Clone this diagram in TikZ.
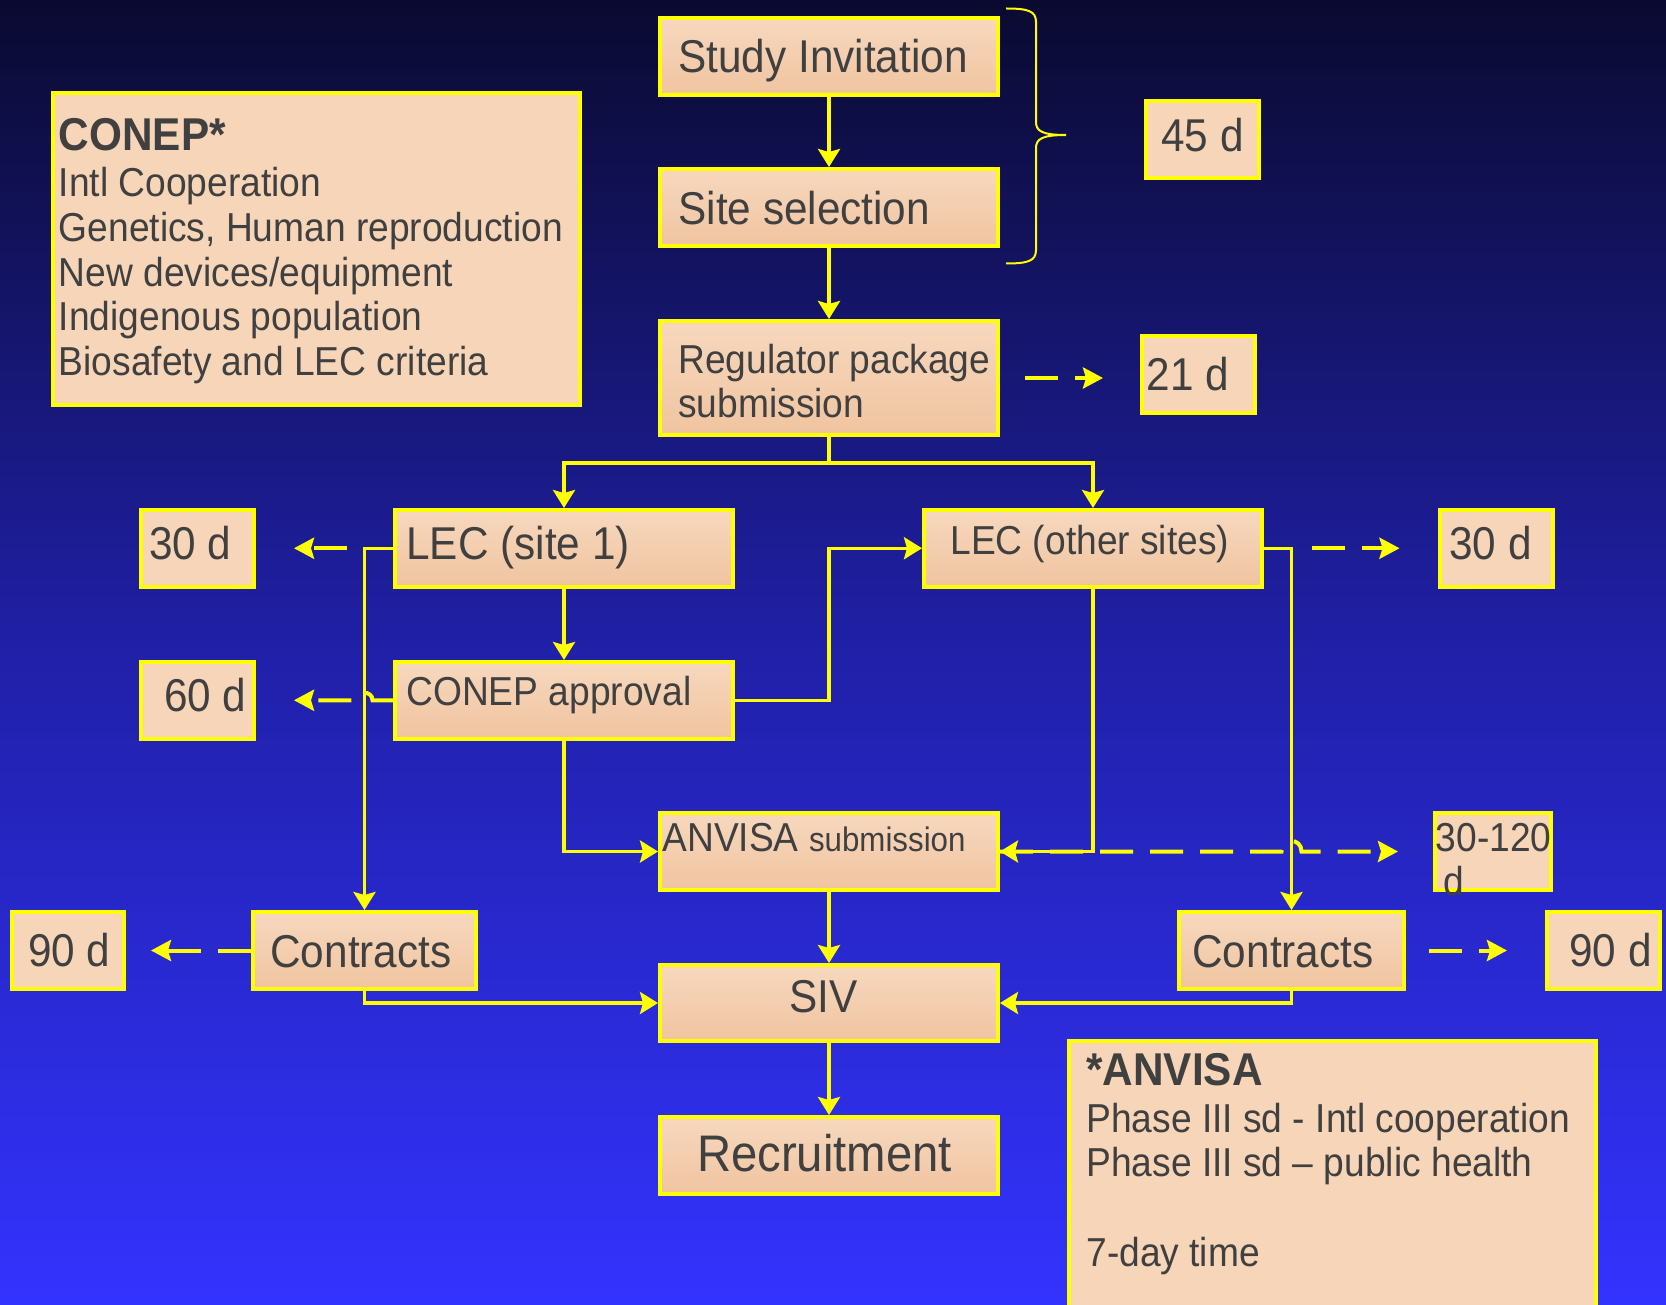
\documentclass[tikz,border=0pt]{standalone}
\usepackage{fontspec}
\setmainfont{Liberation Sans}[FakeStretch=0.92]
\usetikzlibrary{arrows.meta,calc}
\definecolor{bgtop}{RGB}{10,10,48}
\definecolor{bgmid}{RGB}{32,32,168}
\definecolor{bgbot}{RGB}{51,51,255}
\definecolor{peachA}{RGB}{247,216,190}
\definecolor{peachB}{RGB}{240,196,160}
\definecolor{peachF}{RGB}{247,213,184}
\definecolor{txtc}{RGB}{64,64,64}
\definecolor{yel}{RGB}{255,255,0}
\begin{document}
\begin{tikzpicture}[x=0.5pt,y=-0.5pt,
  flow/.style={draw=yel,line width=2pt,top color=peachA,bottom color=peachB,minimum width=169pt,minimum height=38.5pt,inner sep=0pt},
  dbox/.style={draw=yel,line width=2pt,fill=peachF,minimum width=56.5pt,minimum height=38.5pt,inner sep=0pt},
  note/.style={draw=yel,line width=2pt,fill=peachF,inner sep=0pt},
  tx/.style={text=txtc,inner sep=0pt,anchor=base west},
  fL/.style={font=\fontsize{23}{27}\selectfont},
  fM/.style={font=\fontsize{20.2}{24}\selectfont},
  fX/.style={font=\fontsize{25.7}{30}\selectfont},
  fB/.style={font=\fontsize{23}{27}\selectfont\bfseries},
  arr/.style={draw=yel,line width=1.7pt,-{Stealth[length=9pt,width=11pt,inset=1.5pt]}},
  darr/.style={draw=yel,line width=2pt,-{Stealth[length=10pt,width=10.5pt,inset=1.5pt]},dash pattern=on 16.5pt off 8.5pt},
  brace/.style={draw=yel,line width=1pt}]
\path[use as bounding box] (0,0) rectangle (1666,1305);
\clip (0,0) rectangle (1666,1305);
\shade[top color=bgtop,bottom color=bgbot,middle color=bgmid] (0,0) rectangle (1666,1305);

% legend boxes
\node[note,minimum width=263.5pt,minimum height=155.75pt] (conep) at (316.5,249.25) {};
\node[note,minimum width=263.5pt,minimum height=139.5pt] (anvisa) at (1332.5,1180.5) {};

% flow boxes
\node[flow] (si) at (829,56.5) {};
\node[flow,minimum height=38.75pt] (ss) at (829,207.75) {};
\node[flow,minimum height=57pt] (rp) at (829,378) {};
\node[flow,minimum height=38.25pt] (l1) at (564,548.25) {};
\node[flow,minimum height=38.25pt] (lo) at (1093,548.25) {};
\node[flow,minimum height=38.25pt] (ca) at (564,700.25) {};
\node[flow] (an) at (829,851.5) {};
\node[flow,minimum width=111.5pt] (cl) at (364.5,950.5) {};
\node[flow,minimum height=38pt] (siv) at (829,1003) {};
\node[flow,minimum width=112.5pt] (cr) at (1291.5,950.5) {};
\node[flow] (rec) at (829,1155.5) {};

% duration boxes
\node[dbox,minimum height=38.75pt] (d45) at (1202.5,139.75) {};
\node[dbox] (d21) at (1198.5,374.5) {};
\node[dbox,minimum height=38.25pt] (d30l) at (197.5,548.25) {};
\node[dbox,minimum height=38.25pt] (d60) at (197.5,700.25) {};
\node[dbox,minimum height=38.25pt] (d30r) at (1496,548.25) {};
\node[dbox,minimum width=58pt] (d120) at (1493,851.5) {};
\node[dbox,minimum width=56pt] (d90l) at (68,950.5) {};
\node[dbox] (d90r) at (1603.5,950.5) {};

% brace
\draw[brace] (1006,8.5) .. controls (1028,8.5) and (1036,11) .. (1036,22) -- (1036,122)
  .. controls (1036,131) and (1042,135) .. (1066,135)
  .. controls (1042,135) and (1036,139) .. (1036,148) -- (1036,250)
  .. controls (1036,261) and (1028,263.5) .. (1006,263.5);

% solid connectors
\coordinate (j1) at (829,463);
\draw[arr] (si) -- (ss);
\draw[arr] (ss) -- (rp);
\draw[yel,line width=1.7pt] (rp.south) -- (j1);
\draw[arr] (j1) -| (l1.north);
\draw[arr] (j1) -| (lo.north);
\draw[arr] (l1) -- (ca);
\draw[arr] (ca.east) -| ($(ca.east -| si.south)$) |- (lo.west);
\draw[arr] (ca.south) |- (an.west);
\draw[arr] (lo.south) |- (an.east);
\draw[arr] (l1.west) -| (cl.north);
\draw[arr] (lo.east) -| (cr.north);
\draw[arr] (cl.south) |- (siv.west);
\draw[arr] (cr.south) |- (siv.east);
\draw[arr] (an) -- (siv);
\draw[arr] (siv) -- (rec);

% dashed connectors
\draw[darr,shorten <=12.5pt,shorten >=18.5pt] (rp.east) -- (rp.east -| d21.west);
\draw[darr,shorten <=23pt,shorten >=19pt] (l1.west) -- (l1.west -| d30l.east);
\draw[darr,shorten >=19pt] (ca.west) -- ($(ca.west -| cl.north)+(8,0)$)
  .. controls +(0,-10) and +(0,-10) .. ($(ca.west -| cl.north)+(-8,0)$) -- (ca.west -| d60.east);
\draw[darr,shorten >=12.5pt] (cl.west) -- (cl.west -| d90l.east);
\draw[darr,shorten <=24pt,shorten >=19pt] (lo.east) -- (lo.east -| d30r.west);
\draw[darr,shorten >=17.5pt] (an.east) -- ($(an.east -| cr.north)+(-10,0)$)
  .. controls +(0,-14) and +(0,-14) .. ($(an.east -| cr.north)+(10,0)$) -- (an.east -| d120.west);
\draw[darr,shorten <=11.5pt,shorten >=19pt] (cr.east) -- (cr.east -| d90r.west);

% texts
\node[tx,fL] (tsi) at (678,72.8) {Study Invitation};
\node[tx,fL] (tss) at (678,224.8) {Site selection};
\node[tx,fM] (trp1) at (678,373.4) {Regulator package};
\node[tx,fM] (trp2) at (678,417) {submission};
\node[tx,fL] (tl1) at (406,559.5) {LEC (site 1)};
\node[tx,fM] (tlo) at (950,554) {LEC (other sites)};
\node[tx,fM] (tca) at (406,705) {CONEP approval};
\node[tx,fM] (tan) at (662,851.5) {ANVISA {\fontsize{17}{20}\selectfont submission}};
\node[tx,fL,anchor=base] (tsiv) at (823.4,1012) {SIV};
\node[tx,fX,anchor=base] (trec) at (824.5,1171) {Recruitment};
\node[tx,fL] (tcl) at (270,967.5) {Contracts};
\node[tx,fL] (tcr) at (1192,967.5) {Contracts};
\node[tx,fL] (t45) at (1161,151.5) {45 d};
\node[tx,fL] (t21) at (1146.4,390.5) {21 d};
\node[tx,fL] (t30l) at (148.75,559.5) {30 d};
\node[tx,fL] (t60) at (163.6,711.5) {60 d};
\node[tx,fL] (t30r) at (1449,559.5) {30 d};
\node[tx,fL] (t90l) at (27.6,966.5) {90 d};
\node[tx,fL] (t90r) at (1569,966.5) {90 d};
\node[tx,fM] (t120a) at (1435.4,851.5) {30-120};
\node[tx,fM] (t120b) at (1443,895) {d};

\node[tx,fB] (tc0) at (58.4,150.4) {CONEP*};
\node[tx,fM] (tc1) at (58.4,197) {Intl Cooperation};
\node[tx,fM] (tc2) at (58.4,241.6) {Genetics, Human reproduction};
\node[tx,fM] (tc3) at (58.4,286.2) {New devices/equipment};
\node[tx,fM] (tc4) at (58.4,330.8) {Indigenous population};
\node[tx,fM] (tc5) at (58.4,375.4) {Biosafety and LEC criteria};

\node[tx,fB] (ta0) at (1086,1085.5) {*ANVISA};
\node[tx,fM] (ta1) at (1086,1132) {Phase III sd - Intl cooperation};
\node[tx,fM] (ta2) at (1086,1176.7) {Phase III sd – public health};
\node[tx,fM] (ta3) at (1086,1266) {7-day time};
\end{tikzpicture}
\end{document}
